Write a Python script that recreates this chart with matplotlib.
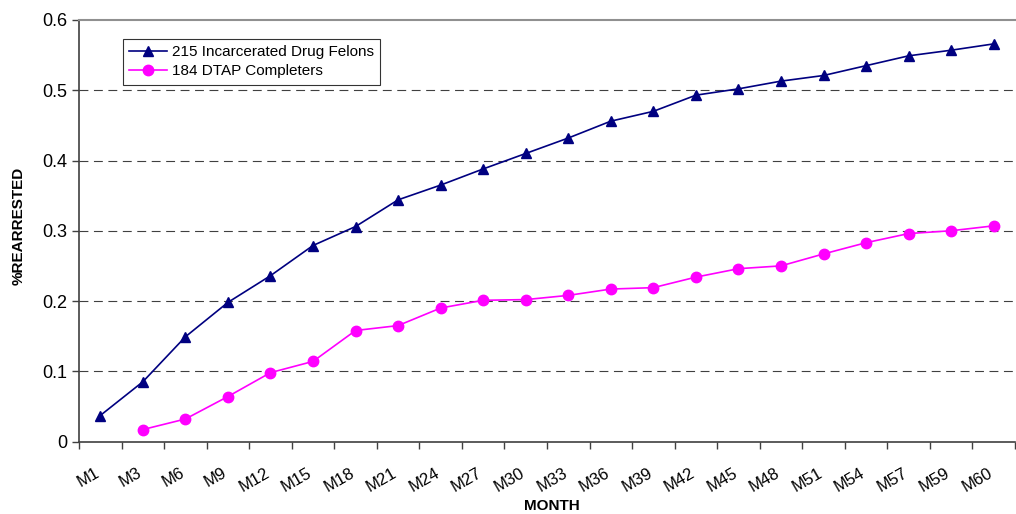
import matplotlib
matplotlib.use("Agg")
import matplotlib.pyplot as plt
import matplotlib.transforms as mtransforms
import numpy as np

plt.rcParams['font.family'] = ['Liberation Sans', 'DejaVu Sans']

months = ["M1", "M3", "M6", "M9", "M12", "M15", "M18", "M21", "M24", "M27", "M30",
          "M33", "M36", "M39", "M42", "M45", "M48", "M51", "M54", "M57", "M59", "M60"]

felons = [0.037, 0.085, 0.149, 0.198, 0.236, 0.279, 0.306, 0.344, 0.365, 0.388, 0.410,
          0.432, 0.456, 0.470, 0.493, 0.502, 0.513, 0.521, 0.535, 0.549, 0.557, 0.566]

# DTAP series has no value for M1
dtap = [None, 0.017, 0.032, 0.064, 0.098, 0.114, 0.158, 0.165, 0.190, 0.201, 0.202,
        0.208, 0.217, 0.219, 0.234, 0.246, 0.250, 0.267, 0.283, 0.296, 0.300, 0.307]

y_ticks = [0, 0.1, 0.2, 0.3, 0.4, 0.5, 0.6]
y_labels = ["0", "0.1", "0.2", "0.3", "0.4", "0.5", "0.6"]

fig = plt.figure(figsize=(10.16, 5.14), dpi=100)
ax = fig.add_axes([79 / 1016, 1 - 441.5 / 514, (1015 - 79) / 1016, (441.5 - 20) / 514])

x = np.arange(len(months))
dtap_arr = np.array([np.nan if v is None else v for v in dtap], dtype=float)

ax.plot(x, felons, color="#000080", lw=1.2, marker="^", markersize=7.5,
        markerfacecolor="#000080", markeredgecolor="#000080",
        label="215 Incarcerated Drug Felons", zorder=3)
ax.plot(x, dtap_arr, color="#FF00FF", lw=1.2, marker="o", markersize=7.5,
        markerfacecolor="#FF00FF", markeredgecolor="#FF00FF",
        label="184 DTAP Completers", zorder=3)

ax.set_xlim(-0.5, len(months) - 0.5)
ax.set_ylim(0, 0.6)

# horizontal dashed gridlines
for yv in y_ticks[1:-1]:
    ax.axhline(yv, color="#404040", lw=0.8, linestyle=(0, (8, 5)), zorder=1)

ax.set_yticks(y_ticks)
ax.set_yticklabels(y_labels, fontsize=13)
ax.tick_params(axis="y", direction="out", length=5, width=1, color="#404040", pad=3.5)

ax.set_xticks(x)
ax.set_xticklabels(months, fontsize=12, rotation=30, ha="right",
                   rotation_mode="anchor")
ax.tick_params(axis="x", which="major", length=0, pad=17)
shift = mtransforms.ScaledTranslation(-6 / 100, 0, fig.dpi_scale_trans)
for lbl in ax.get_xticklabels():
    lbl.set_transform(lbl.get_transform() + shift)
ax.set_xticks(np.arange(-0.5, len(months), 1), minor=True)
ax.tick_params(axis="x", which="minor", direction="out", length=5, width=1,
               color="#404040")

for side in ("left", "bottom"):
    ax.spines[side].set_color("#404040")
    ax.spines[side].set_linewidth(1.2)
ax.spines["top"].set_color("#909090")
ax.spines["top"].set_linewidth(1.5)
ax.spines["right"].set_visible(False)

ax.set_xlabel("MONTH", fontsize=11, fontweight="bold", va="center")
ax.xaxis.set_label_coords((552 - 79) / 936, (441.5 - 506) / 421.5)
ax.set_ylabel("%REARRESTED", fontsize=11, fontweight="bold", va="center")
ax.yaxis.set_label_coords((19 - 79) / 936, (441.5 - 226) / 421.5)

leg = ax.legend(loc="upper left", bbox_to_anchor=(44 / 936, 1 - 19 / 421.5),
                fontsize=11, frameon=True, fancybox=False, handlelength=2.5,
                borderpad=0.4, labelspacing=0.35, handletextpad=0.3,
                borderaxespad=0)
leg.get_frame().set_edgecolor("#000000")
leg.get_frame().set_linewidth(0.8)

fig.savefig("out.png", dpi=100)
